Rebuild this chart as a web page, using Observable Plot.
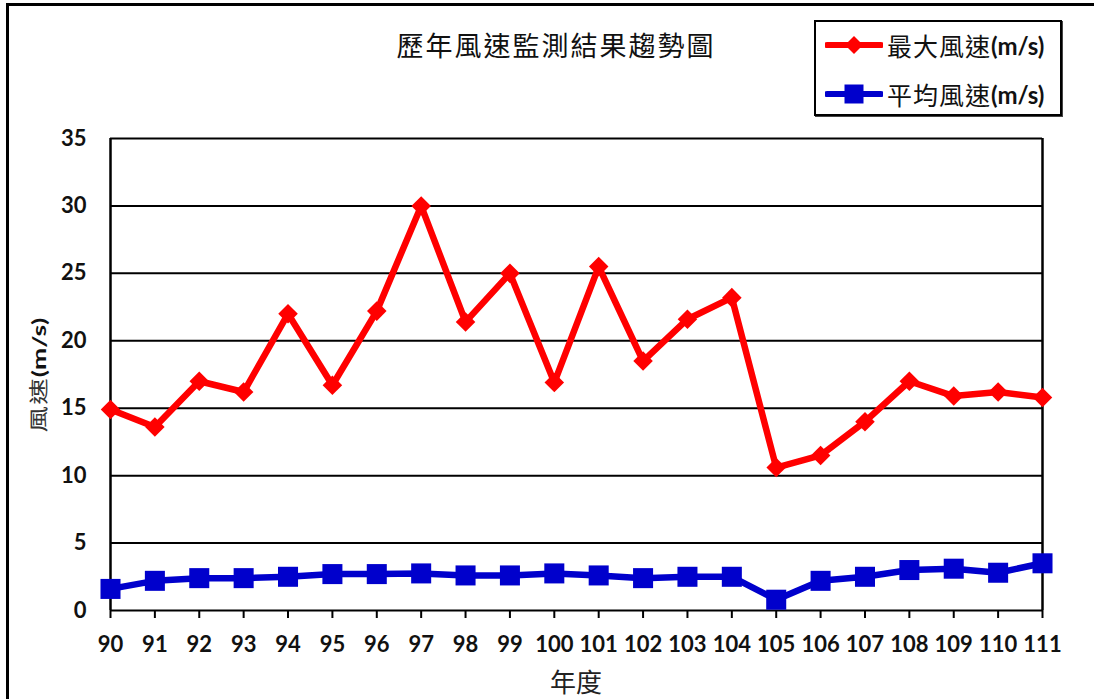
<!DOCTYPE html>
<html><head><meta charset="utf-8">
<script src="https://cdn.jsdelivr.net/npm/d3@7"></script>
<script src="https://cdn.jsdelivr.net/npm/@observablehq/plot@0.6"></script>
<style>
html,body{margin:0;padding:0;background:#fff;}
#wrap{position:relative;width:1094px;height:699px;overflow:hidden;background:#fff;}
#frame{position:absolute;left:6px;top:3px;width:1200px;height:800px;border:3px solid #000;box-sizing:border-box;}
#chart{position:absolute;left:0;top:0;}
#title{position:absolute;left:0;width:1112px;top:31px;line-height:28px;text-align:center;font-family:"Noto Sans CJK TC";font-size:27px;letter-spacing:2px;color:#111;}
#legend{position:absolute;left:814px;top:20px;width:248px;height:96px;border:2px solid #000;box-sizing:border-box;background:#fff;box-shadow:1px 1px 0 #444;}
.item{position:absolute;left:9px;height:30px;display:flex;align-items:center;}
.item svg{display:block;margin-right:4px;}
.cjk{font-family:"Noto Sans CJK TC";font-size:25px;letter-spacing:1px;color:#111;}
.lat{font-family:Lato;font-weight:bold;font-size:24px;color:#111;}
#ylab{position:absolute;left:37px;top:375px;white-space:nowrap;transform:translate(-50%,-50%) rotate(-90deg) scale(1.15,0.85);}
#ylab .cjk{font-size:23px;color:#333;}
#ylab .lat{font-size:23px;}
#xlab{position:absolute;left:576px;top:680px;transform:translate(-50%,-50%);font-family:"Noto Sans CJK TC";font-size:26px;color:#222;white-space:nowrap;}
</style>
</head><body>
<div id="wrap">
  <div id="frame"></div>
  <div id="chart"></div>
  <div id="title"></div>
  <div id="legend"></div>
  <div id="ylab"><span class="cjk">風速</span><span class="lat">(m/s)</span></div>
  <div id="xlab">年度</div>
</div>
<script>
const years = [90,91,92,93,94,95,96,97,98,99,100,101,102,103,104,105,106,107,108,109,110,111];
const maxWind = [14.9,13.6,17.0,16.2,22.0,16.7,22.2,30.0,21.4,25.0,16.9,25.5,18.5,21.6,23.2,10.6,11.5,14.0,17.0,15.9,16.2,15.8];
const avgWind = [1.6,2.2,2.4,2.4,2.5,2.7,2.7,2.75,2.6,2.6,2.75,2.6,2.4,2.5,2.5,0.8,2.2,2.5,3.0,3.1,2.8,3.5];
const yTicks = [0,5,10,15,20,25,30,35];
const titleText = "歷年風速監測結果趨勢圖";
const seriesNames = ["最大風速", "平均風速"];
const unitText = "(m/s)";
const seriesColors = ["#ff0000", "#0000cc"];

document.getElementById("title").textContent = titleText;

const rows = years.map((yr, i) => ({year: yr, max: maxWind[i], avg: avgWind[i]}));

const chart = Plot.plot({
  width: 1094,
  height: 699,
  marginTop: 138,
  marginBottom: 89,
  marginLeft: 110,
  marginRight: 52,
  style: {fontFamily: "Lato", fontWeight: "bold", fontSize: "22px", color: "#000", background: "transparent"},
  x: {type: "linear", domain: [90, 111]},
  y: {domain: [0, 35]},
  marks: [
    Plot.gridY(yTicks, {stroke: "#000", strokeOpacity: 1, strokeWidth: 2}),
    Plot.ruleX([90, 111], {y1: 0, y2: 35, stroke: "#000", strokeWidth: 2.5}),
    Plot.axisY(yTicks, {tickSize: 0, tickPadding: 24, label: null, fontSize: 22, fontWeight: "bold", fill: "#111"}),
    Plot.axisX(years, {tickSize: 8, tickPadding: 18, label: null, tickFormat: d => String(d), stroke: "#000", strokeWidth: 2, fontSize: 22, fontWeight: "bold", fill: "#111"}),
    Plot.lineY(rows, {x: "year", y: "max", stroke: seriesColors[0], strokeWidth: 6.5}),
    Plot.dot(rows, {x: "year", y: "max", symbol: "diamond2", r: 8.8, fill: seriesColors[0]}),
    Plot.lineY(rows, {x: "year", y: "avg", stroke: seriesColors[1], strokeWidth: 6.5}),
    Plot.dot(rows, {x: "year", y: "avg", symbol: "square", r: 11.3, fill: seriesColors[1]})
  ]
});
document.getElementById("chart").appendChild(chart);

// legend
const legend = document.getElementById("legend");
const tops = [8, 57];
seriesNames.forEach((name, i) => {
  const item = document.createElement("div");
  item.className = "item";
  item.style.top = tops[i] + "px";
  const ns = "http://www.w3.org/2000/svg";
  const svg = document.createElementNS(ns, "svg");
  svg.setAttribute("width", 58); svg.setAttribute("height", 24);
  const line = document.createElementNS(ns, "line");
  line.setAttribute("x1", 2); line.setAttribute("x2", 56);
  line.setAttribute("y1", 12); line.setAttribute("y2", 12);
  line.setAttribute("stroke", seriesColors[i]); line.setAttribute("stroke-width", 6);
  line.setAttribute("stroke-linecap", "round");
  svg.appendChild(line);
  const sym = document.createElementNS(ns, "path");
  if (i === 0) sym.setAttribute("d", "M29,3L38,12L29,21L20,12Z");
  else sym.setAttribute("d", "M19.5,2.5H38.5V21.5H19.5Z");
  sym.setAttribute("fill", seriesColors[i]);
  svg.appendChild(sym);
  item.appendChild(svg);
  const t1 = document.createElement("span"); t1.className = "cjk"; t1.textContent = name;
  const t2 = document.createElement("span"); t2.className = "lat"; t2.textContent = unitText;
  item.appendChild(t1); item.appendChild(t2);
  legend.appendChild(item);
});
</script>
</body></html>
